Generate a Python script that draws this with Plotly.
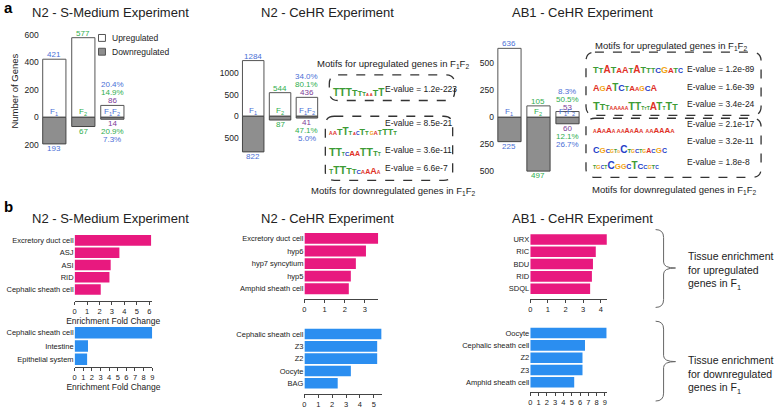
import plotly.graph_objects as go

W, H = 778, 409
FONT = "Liberation Sans, Arial, sans-serif"

# ---------------- panel a : number of genes ----------------
groups = [0, 1, 2]  # F1, F2, F1F2
smed_up = [421, 577, 86]
smed_down = [193, 67, 14]
smed_up_pct = ["20.4%", "14.9%"]
smed_down_pct = ["7.3%", "20.9%"]
smed_ticks = [-200, 0, 200, 400, 600]

n2_up = [1284, 544, 436]
n2_down = [822, 87, 41]
n2_up_pct = ["34.0%", "80.1%"]
n2_down_pct = ["5.0%", "47.1%"]
n2_ticks = [-500, 0, 500, 1000]

ab1_up = [636, 105, 53]
ab1_down = [225, 497, 60]
ab1_up_pct = ["8.3%", "50.5%"]
ab1_down_pct = ["26.7%", "12.1%"]
ab1_ticks = [-500, -250, 0, 250, 500]

group_names = ["F<sub>1</sub>", "F<sub>2</sub>", "F<sub>1</sub>F<sub>2</sub>"]

# ---------------- panel b : tissue enrichment ----------------
smed_tis_up = ["Excretory duct cell", "ASJ", "ASI", "RID", "Cephalic sheath cell"]
smed_fc_up = [6.15, 3.6, 2.9, 2.8, 2.1]
smed_tis_down = ["Cephalic sheath cell", "Intestine", "Epithelial system"]
smed_fc_down = [9.0, 1.55, 1.45]

n2_tis_up = ["Excretory duct cell", "hyp6", "hyp7 syncytium", "hyp5", "Amphid sheath cell"]
n2_fc_up = [3.85, 3.05, 2.55, 2.3, 2.2]
n2_tis_down = ["Cephalic sheath cell", "Z3", "Z2", "Oocyte", "BAG"]
n2_fc_down = [5.55, 5.25, 5.25, 3.35, 2.4]

ab1_tis_up = ["URX", "RIC", "BDU", "RID", "SDQL"]
ab1_fc_up = [4.35, 3.72, 3.56, 3.5, 3.4]
ab1_tis_down = ["Oocyte", "Cephalic sheath cell", "Z2", "Z3", "Amphid sheath cell"]
ab1_fc_down = [9.2, 6.6, 6.3, 6.3, 5.3]

# motif e-values
n2_up_evalues = ["1.2e-223"]
n2_down_evalues = ["8.5e-21", "3.6e-11", "6.6e-7"]
ab1_up_evalues = ["1.2e-89", "1.6e-39", "3.4e-24"]
ab1_down_evalues = ["2.1e-17", "3.2e-11", "1.8e-8"]

BLUE_T = "#4a6fd6"
GREEN_T = "#2fae4e"
PURPLE_T = "#7d3c98"
GRAY = "#8e8e8e"
PINK = "#e8197f"
BLUEBAR = "#2b8ef0"
BASE_COL = {"A": "#e03127", "C": "#2440c8", "G": "#f2a413", "T": "#3d9b35", " ": "#ffffff"}


def X(px):
    return px / W


def Y(py):
    return 1 - py / H


fig = go.Figure()
layout = {}
annotations = []
shapes = []


def ax_key(kind, i):
    return kind + ("" if i == 1 else str(i))


def txt(x, y, text, size=9, color="#222", xanchor="center", yanchor="middle", **kw):
    annotations.append(dict(x=X(x), y=Y(y), xref="paper", yref="paper", text=text,
                            showarrow=False, xanchor=xanchor, yanchor=yanchor,
                            font=dict(size=size, color=color, family=FONT), **kw))


def count_chart(i, up, down, up_pct, down_pct, ticks, xdom, ydom, yrange, title_y=False):
    xa, ya = "x" + ("" if i == 1 else str(i)), "y" + ("" if i == 1 else str(i))
    fig.add_trace(go.Bar(x=groups, y=up, width=0.8, xaxis=xa, yaxis=ya,
                         marker=dict(color="white", line=dict(color="#555", width=1)),
                         showlegend=False, hoverinfo="skip"))
    fig.add_trace(go.Bar(x=groups, y=[-d for d in down], width=0.8, xaxis=xa, yaxis=ya,
                         marker=dict(color=GRAY, line=dict(color="#444", width=1)),
                         showlegend=False, hoverinfo="skip"))
    layout[ax_key("xaxis", i)] = dict(domain=[X(xdom[0]), X(xdom[1])], range=[-0.5, 2.5],
                                      anchor=ya, visible=False)
    yax = dict(domain=[Y(ydom[1]), Y(ydom[0])], range=yrange, anchor=xa,
               tickvals=ticks, ticktext=[str(abs(t)) for t in ticks],
               showgrid=False, zeroline=False, showline=False, ticks="",
               tickfont=dict(size=8.5, color="#222"))
    if title_y:
        yax["title"] = dict(text="Number of Genes", font=dict(size=9.5, color="#222"), standoff=4)
    layout[ax_key("yaxis", i)] = yax
    cols = [BLUE_T, GREEN_T, PURPLE_T]

    def lab(x, y, t, c, anchor, shift):
        annotations.append(dict(x=x, y=y, xref=xa, yref=ya, text=t, showarrow=False,
                                yanchor=anchor, yshift=shift,
                                font=dict(size=8, color=c, family=FONT)))

    for g in range(3):
        lab(g, up[g], str(up[g]), cols[g], "bottom", -2)
        lab(g, -down[g], str(down[g]), cols[g], "top", 2)
        lab(g, 0, group_names[g], BLUE_T if g != 1 else GREEN_T, "bottom", -2)
    lab(2, up[2], up_pct[1], GREEN_T, "bottom", 6)
    lab(2, up[2], up_pct[0], BLUE_T, "bottom", 14)
    lab(2, -down[2], down_pct[1], GREEN_T, "top", -6)
    lab(2, -down[2], down_pct[0], BLUE_T, "top", -14)


count_chart(1, smed_up, smed_down, smed_up_pct, smed_down_pct, smed_ticks,
            (38, 125.5), (30, 155), [-257, 636], title_y=True)
count_chart(2, n2_up, n2_down, n2_up_pct, n2_down_pct, n2_ticks,
            (239, 320), (50, 160), [-955, 1545])
count_chart(3, ab1_up, ab1_down, ab1_up_pct, ab1_down_pct, ab1_ticks,
            (495.5, 583), (45, 185), [-600, 673])


def tissue_chart(i, names, vals, color, xdom, ydom, xmax, ymax, xtitle=False):
    xa, ya = "x" + str(i), "y" + str(i)
    fig.add_trace(go.Bar(y=names, x=vals, orientation="h", width=0.86, xaxis=xa, yaxis=ya,
                         marker=dict(color=color, line=dict(width=0)),
                         showlegend=False, hoverinfo="skip"))
    xax = dict(domain=[X(xdom[0]), X(xdom[1])], range=[0, xmax], anchor=ya,
               showgrid=False, zeroline=False, showline=True, linecolor="#444", linewidth=1,
               ticks="outside", ticklen=3, tickcolor="#444", dtick=1,
               tickfont=dict(size=7.5, color="#222"))
    if xtitle:
        xax["title"] = dict(text="Enrichment Fold Change", font=dict(size=8.5, color="#222"), standoff=2)
    layout[ax_key("xaxis", i)] = xax
    layout[ax_key("yaxis", i)] = dict(domain=[Y(ydom[1]), Y(ydom[0])], type="category",
                                      range=[ymax, -0.5], anchor=xa, showgrid=False,
                                      zeroline=False, showline=False, ticks="",
                                      tickfont=dict(size=7.5, color="#222"))


tissue_chart(4, smed_tis_up, smed_fc_up, PINK, (73, 150.5), (237.75, 305), 6.2, 4.9, xtitle=True)
tissue_chart(5, smed_tis_down, smed_fc_down, BLUEBAR, (73, 151), (331, 372), 9.0, 2.55, xtitle=True)
tissue_chart(6, n2_tis_up, n2_fc_up, PINK, (304, 378), (235.6, 303), 3.65, 4.78)
tissue_chart(7, n2_tis_down, n2_fc_down, BLUEBAR, (304, 382), (332.75, 400), 5.6, 4.88)
tissue_chart(8, ab1_tis_up, ab1_fc_up, PINK, (531, 608), (236.75, 303), 4.35, 4.8)
tissue_chart(9, ab1_tis_down, ab1_fc_down, BLUEBAR, (531, 608), (331.75, 398), 9.24, 4.8)

# ---------------- titles & panel letters ----------------
txt(7, 8, "<b>a</b>", size=15, color="#000")
txt(7, 210, "<b>b</b>", size=15, color="#000")
for cx, t in [(109, "N2 - S-Medium Experiment"), (327, "N2 - CeHR Experiment"),
              (584, "AB1 - CeHR Experiment")]:
    txt(cx, 13, t, size=13)
    txt(cx, 222, t, size=13)

# legend of panel a
shapes.append(dict(type="rect", xref="paper", yref="paper", x0=X(97), x1=X(104), y0=Y(42), y1=Y(35),
                   fillcolor="white", line=dict(color="#555", width=1)))
shapes.append(dict(type="rect", xref="paper", yref="paper", x0=X(97), x1=X(104), y0=Y(56), y1=Y(49),
                   fillcolor=GRAY, line=dict(color="#555", width=1)))
txt(109, 38.5, "Upregulated", size=8.5, xanchor="left")
txt(109, 52.5, "Downregulated", size=8.5, xanchor="left")


# ---------------- motif boxes ----------------
def rbox(x0, y0, x1, y1, r=9):
    pts = [("M", x0 + r, y0), ("L", x1 - r, y0), ("Q", x1, y0, x1, y0 + r), ("L", x1, y1 - r),
           ("Q", x1, y1, x1 - r, y1), ("L", x0 + r, y1), ("Q", x0, y1, x0, y1 - r),
           ("L", x0, y0 + r), ("Q", x0, y0, x0 + r, y0)]
    path = ""
    for p in pts:
        c = p[1:]
        path += p[0] + " " + " ".join(f"{X(c[k]):.5f},{Y(c[k + 1]):.5f}" for k in range(0, len(c), 2)) + " "
    shapes.append(dict(type="path", xref="paper", yref="paper", path=path + "Z",
                       line=dict(color="#333", width=1.3, dash="dash")))


rbox(329, 76, 455, 102)
rbox(325, 118, 453, 183)
rbox(587, 53, 763, 117)
rbox(587, 120, 763, 180)

F12 = "F<sub>1</sub>F<sub>2</sub>"
txt(393, 65, "Motifs for upregulated genes in " + F12, size=9.5)
txt(394, 194, "Motifs for downregulated genes in " + F12, size=9.5)
txt(672, 47, "Motifs for upregulated genes in " + F12, size=9.5)
txt(676, 193, "Motifs for downregulated genes in " + F12, size=9.5)

for y, e in zip([90], n2_up_evalues):
    txt(383, y, "E-value = " + e, size=8.5, xanchor="left")
for y, e in zip([125, 152, 171], n2_down_evalues):
    txt(383, y, "E-value = " + e, size=8.5, xanchor="left")
for y, e in zip([70, 88, 106], ab1_up_evalues):
    txt(687, y, "E-value = " + e, size=8.5, xanchor="left")
for y, e in zip([126, 143, 164], ab1_down_evalues):
    txt(687, y, "E-value = " + e, size=8.5, xanchor="left")


def logo(x, y, letters, sizes):
    html = "".join(f"<span style='color:{BASE_COL[c]};font-size:{s}px'>{c}</span>"
                   for c, s in zip(letters, sizes))
    annotations.append(dict(x=X(x), y=Y(y), xref="paper", yref="paper", text="<b>" + html + "</b>",
                            showarrow=False, xanchor="left", yanchor="bottom",
                            font=dict(size=8, family=FONT)))


# sequence logos (drawn as letters)
logo(331, 101, "TTTTTTA ATT", [10, 11, 10, 9, 8, 6, 4, 3, 4, 9, 10])
logo(327, 141, "AATTT ACTT GATTTT", [5, 6, 9, 10, 6, 3, 4, 5, 9, 6, 3, 5, 6, 7, 9, 9, 6])
logo(327, 162, "TTTCAATTTT", [11, 10, 5, 6, 8, 7, 10, 11, 8, 5])
logo(327, 181, "TTTTTCAAAA", [7, 10, 11, 9, 8, 6, 6, 7, 9, 5])

logo(592, 78, "TTATAATATTTCGATC", [9, 8, 10, 9, 8, 9, 8, 10, 9, 8, 7, 8, 9, 8, 8, 7])
logo(592, 96, "AGATCTAAGCA", [9, 8, 9, 10, 9, 7, 8, 6, 7, 8, 9])
logo(592, 116, "TTTAAAAATTTTTATTTT", [11, 9, 7, 5, 6, 5, 5, 5, 11, 10, 5, 4, 5, 10, 10, 5, 11, 9])
logo(592, 139, "AAAAA AAAAAA  AAAAAA", [5, 7, 6, 8, 5, 4, 6, 5, 7, 6, 7, 6, 4, 4, 5, 6, 8, 7, 8, 6])
logo(592, 159, "CGCGTGCTGCTGACGC", [9, 8, 6, 5, 5, 4, 10, 6, 5, 6, 5, 5, 7, 6, 8, 7])
logo(592, 176, "TGCTCGGCTCCGTC", [5, 6, 5, 5, 10, 8, 7, 7, 10, 8, 6, 5, 6, 5])


# ---------------- braces ----------------
def brace(x0, xm, xt, y0, ym, y1):
    pts = [(x0, y0), (xm, y0), (xm, y0 + 8), (xm, ym - 6), (xm, ym), (xt, ym),
           (xm, ym), (xm, ym + 6), (xm, y1 - 8), (xm, y1), (x0, y1)]
    P = [f"{X(a):.5f},{Y(b):.5f}" for a, b in pts]
    path = f"M {P[0]} Q {P[1]} {P[2]} L {P[3]} Q {P[4]} {P[5]} Q {P[6]} {P[7]} L {P[8]} Q {P[9]} {P[10]}"
    shapes.append(dict(type="path", xref="paper", yref="paper", path=path,
                       line=dict(color="#666", width=1)))


brace(657, 665, 677, 233, 272, 312)
brace(657, 665, 677, 326, 367, 407)
txt(688, 275, "Tissue enrichment<br>for upregulated<br>genes in F<sub>1</sub>", size=10.5,
    xanchor="left", align="left")
txt(688, 381, "Tissue enrichment<br>for downregulated<br>genes in F<sub>1</sub>", size=10.5,
    xanchor="left", align="left")

fig.update_layout(**layout)
fig.update_layout(width=W, height=H, margin=dict(l=0, r=0, t=0, b=0),
                  paper_bgcolor="white", plot_bgcolor="white", barmode="overlay",
                  font=dict(family=FONT, color="#222"), showlegend=False,
                  annotations=annotations, shapes=shapes)

# the page body has an 8px default margin; remove it so the figure fills the window
fig.write_html("out.html", config={"displayModeBar": False},
               post_script="document.body.style.margin='0px';")
